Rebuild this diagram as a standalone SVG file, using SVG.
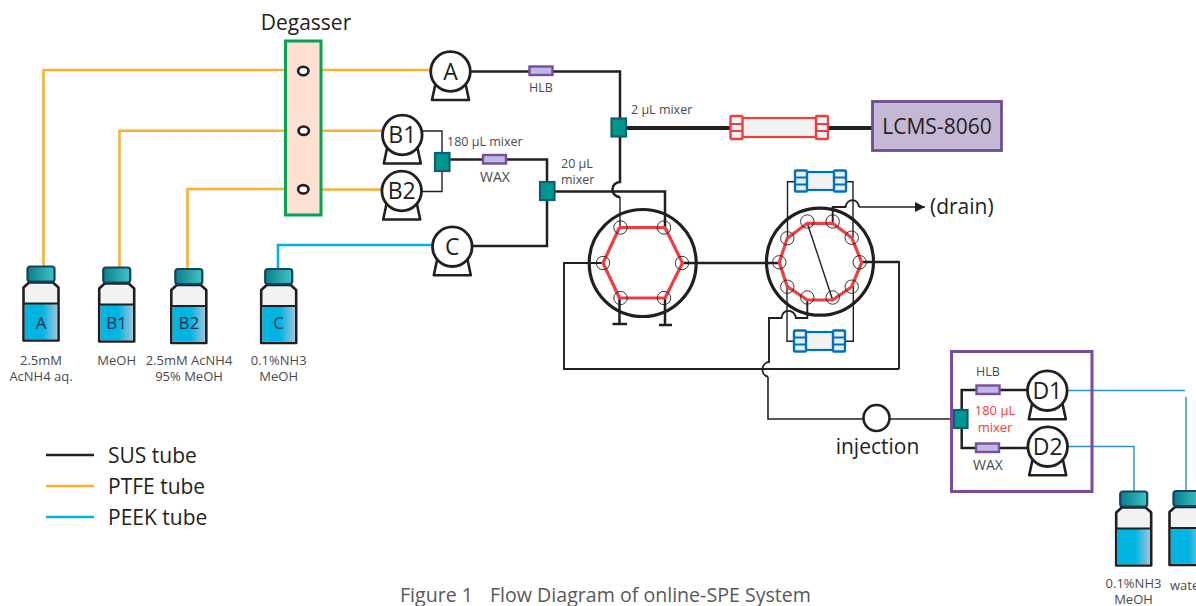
<svg xmlns="http://www.w3.org/2000/svg" width="1196" height="606" viewBox="0 0 1196 606">
<style>
text{font-family:"Open Sans","Noto Sans","Liberation Sans",sans-serif;fill:#4a4a4c}
.s{font-size:12.5px}.l{font-size:13px}.m{font-size:21px;fill:#231f20}.c{text-anchor:middle}
.p{font-size:23px;fill:#231f20;text-anchor:middle}
.v{font-size:17px;fill:#16324a;text-anchor:middle}
path,line,circle,rect,ellipse,polygon{fill:none}
.sus{stroke:#231f20;stroke-width:2.5;fill:none}
.sum{stroke:#231f20;stroke-width:1.9;fill:none}
.sust{stroke:#231f20;stroke-width:1.4;fill:none}
.thick{stroke:#231f20;stroke-width:3.8;fill:none}
.ptfe{stroke:#fbb034;stroke-width:2.6;fill:none}
.peek{stroke:#00b5e2;stroke-width:2.6;fill:none}
.d{stroke:#2a8fc4;stroke-width:1.4;fill:none}
.pc{fill:#fff;stroke:#231f20;stroke-width:2.8}
.pb{fill:#fff;stroke:#231f20;stroke-width:2.6;stroke-linejoin:round}
.mix{fill:#00978f;stroke:#0d5f74;stroke-width:2.2}
.col{fill:#bdbbe0;stroke:#7b4ba0;stroke-width:2.4}
.ring{fill:none;stroke:#231f20;stroke-width:3.2}
.port{fill:none;stroke:#231f20;stroke-width:.9}
.rotor{fill:none;stroke:#ef3e42;stroke-width:3.2;stroke-linejoin:round}
</style>
<defs>
<linearGradient id="liq"><stop offset=".55" stop-color="#00b5e2"/><stop offset="1" stop-color="#9cc4de"/></linearGradient>
<linearGradient id="capg"><stop offset="0" stop-color="#0a7f8c"/><stop offset="1" stop-color="#3fc4c4"/></linearGradient>
<marker id="arr" markerUnits="userSpaceOnUse" markerWidth="11" markerHeight="10" refX="10" refY="5" orient="auto"><polygon points="0,0 10,5 0,10" style="fill:#231f20"/></marker>
<g id="pump"><path class="pb" d="M-15,12 L-18.5,28.5 H18.5 L15,12"/><circle class="pc" r="19.8"/></g>
<g id="vial">
<path d="M-17.5,22 L-12,17 H12 L17.5,22 V75 H-17.5Z" style="fill:#f1f2f2;stroke:#231f20;stroke-width:2.6;stroke-linejoin:round"/>
<rect x="-16.2" y="38" width="32.4" height="35.8" style="fill:url(#liq)"/>
<line x1="-17" y1="38" x2="17" y2="38" style="stroke:#231f20;stroke-width:2.2"/>
<rect x="-13.5" y="1" width="27" height="15" rx="2.5" style="fill:url(#capg);stroke:#17415f;stroke-width:2.2"/>
</g>
<g id="bcol">
<rect x="6" y="2.5" width="40" height="18" style="fill:#f1f2f2;stroke:#0072bc;stroke-width:2.2"/>
<rect x="1" y="1" width="12" height="21" rx="1" style="fill:#e6eef5;stroke:#0072bc;stroke-width:2.4"/>
<rect x="40" y="1" width="12" height="21" rx="1" style="fill:#e6eef5;stroke:#0072bc;stroke-width:2.4"/>
<path d="M1,8 H13 M1,15 H13 M40,8 H52 M40,15 H52" style="stroke:#0072bc;stroke-width:2"/>
</g>
</defs>

<g id="connectors">
<path class="ptfe" d="M43.5,266 V70 H285 M322,70 H431"/>
<path class="ptfe" d="M119.5,267 V130.7 H285 M322,130.7 H383"/>
<path class="ptfe" d="M187.5,268 V189 H285 M322,189.5 H382"/>
<path class="peek" d="M278,268 V245 H433"/>
<path class="sus" d="M470,71.5 H620 V118"/>
<path class="sus" d="M620,137 V182 A7.5,7.5 0 0 0 620,197"/>
<path class="sust" d="M620,197 V227"/>
<path class="sust" d="M421,131 H442 V153 M421,191.5 H442 V171"/>
<path class="sus" d="M450,159.5 H547 V182 M547,200 V246 H472"/>
<path class="sus" d="M555,191.5 H665 V227"/>
<path class="thick" d="M626,128 H730 M828,128 H872"/>
<path class="sum" d="M603.5,263 H564 V369 H760 M760,369 H899"/>
<path class="sus" d="M682.5,263 H779.5"/>
<path class="sus" d="M861.5,262 H899"/>
<path class="sum" d="M899,261 V369"/>
<path class="sum" d="M807.3,300 V318 H796 C794,309 783,308 781.5,318 H769 V362 A7.5,7.5 0 0 0 768,376.7"/>
<path class="sust" d="M768,376.7 V419 H863" style="stroke-width:1.6"/>
<path class="sust" d="M890,419 H953" style="stroke-width:1.6"/>
<path class="sum" d="M832.7,223 V207 H845.5 C847,198 858,198 859,207"/>
<path class="sust" d="M859,207 H925" marker-end="url(#arr)"/>
<path class="sust" d="M794,181.7 H787.5 V238 M846,181.7 H853 V238"/>
<path class="sust" d="M787,286 V341.3 H793 M853.3,286 V341.3 H845"/>
<path class="sust" d="M807.3,223.3 L832.7,300"/>
<path class="sus" d="M619.5,298 V324 M612.5,324 H627 M665,298 V325 M659,325 H672"/>
<path class="sus" d="M1028,390 H1000 M976,390 H961.7 V410 M961.7,428 V448 H975 M1000,448 H1028"/>
<path class="d" d="M1067,390.5 H1185 M1186,397 V497 M1067,446.5 H1134 V491"/>
</g>

<g id="degasser">
<rect x="285.5" y="41" width="35.5" height="174" style="fill:#fde0d2;stroke:#00a651;stroke-width:3"/>
<ellipse cx="303.3" cy="71" rx="5.2" ry="4.2" style="fill:#fff;stroke:#231f20;stroke-width:2.6"/>
<ellipse cx="303.7" cy="130.7" rx="5.2" ry="4.2" style="fill:#fff;stroke:#231f20;stroke-width:2.6"/>
<ellipse cx="303.3" cy="189.3" rx="5.2" ry="4.2" style="fill:#fff;stroke:#231f20;stroke-width:2.6"/>
<text x="306" y="29.5" class="m c">Degasser</text>
</g>

<g id="pump-a"><use href="#pump" x="450.5" y="71.5"/><text x="450.5" y="79.5" class="p">A</text></g>
<g id="pump-b1"><use href="#pump" x="402.3" y="135"/><text x="402.3" y="143" class="p">B1</text></g>
<g id="pump-b2"><use href="#pump" x="401.7" y="191"/><text x="401.7" y="199" class="p">B2</text></g>
<g id="pump-c"><use href="#pump" x="452.3" y="246.7"/><text x="452.3" y="254.7" class="p">C</text></g>
<g id="pump-d1"><use href="#pump" x="1047.3" y="390.7"/><text x="1047.3" y="398.7" class="p">D1</text></g>
<g id="pump-d2"><use href="#pump" x="1047.7" y="446.7"/><text x="1047.7" y="454.7" class="p">D2</text></g>

<g id="mixer-2"><rect class="mix" x="611.5" y="118.5" width="14.5" height="18"/><text x="631" y="114" class="s">2 µL mixer</text></g>
<g id="mixer-180"><rect class="mix" x="435" y="153" width="14.5" height="18"/><text x="447" y="146" class="s">180 µL mixer</text></g>
<g id="mixer-20"><rect class="mix" x="540" y="182" width="14.5" height="18"/><text x="561" y="168" class="s">20 µL</text><text x="561" y="184" class="s">mixer</text></g>
<g id="mixer-d"><rect class="mix" x="954" y="410" width="13.5" height="18"/><text x="995" y="415" class="l c" style="fill:#ef3e42">180 µL</text><text x="995" y="432" class="l c" style="fill:#ef3e42">mixer</text></g>

<g id="col-hlb"><rect class="col" x="529.5" y="66.5" width="23" height="8.5"/><text x="541" y="92" class="s c">HLB</text></g>
<g id="col-wax"><rect class="col" x="483" y="155" width="23" height="8.5"/><text x="495" y="182" class="c" style="font-size:14px">WAX</text></g>
<g id="col-d-hlb"><rect class="col" x="976.5" y="385.5" width="23" height="8.5"/><text x="988" y="376" class="s c">HLB</text></g>
<g id="col-d-wax"><rect class="col" x="976" y="443.5" width="23" height="8.5"/><text x="988" y="470" class="c" style="font-size:14px">WAX</text></g>

<g id="trap-red">
<rect x="735" y="118" width="88" height="19" style="fill:#f1f2f2;stroke:#ef3e42;stroke-width:2.2"/>
<rect x="730.5" y="116" width="12" height="23" rx="1" style="fill:#f1f2f2;stroke:#ef3e42;stroke-width:2.4"/>
<rect x="816" y="116" width="12" height="23" rx="1" style="fill:#f1f2f2;stroke:#ef3e42;stroke-width:2.4"/>
<path d="M730.5,124 H742.5 M730.5,131 H742.5 M816,124 H828 M816,131 H828" style="stroke:#ef3e42;stroke-width:2"/>
</g>
<g id="lcms"><rect x="872.5" y="101.5" width="129" height="49" style="fill:#c5b8d6;stroke:#6d4f8e;stroke-width:2.8"/><text x="937" y="134" class="m c">LCMS-8060</text></g>

<g id="valve-left">
<circle class="ring" cx="642.7" cy="263" r="53.5"/>
<polygon class="rotor" points="619.5,227.5 665,227.5 682.5,263 665,298 619.5,298 603,263"/>
<circle class="port" cx="620.5" cy="227.5" r="6.7"/><circle class="port" cx="664" cy="227.5" r="6.7"/><circle class="port" cx="682" cy="263" r="6.7"/><circle class="port" cx="664" cy="298" r="6.7"/><circle class="port" cx="620.5" cy="298" r="6.7"/><circle class="port" cx="603" cy="263" r="6.7"/>
</g>
<g id="valve-right">
<circle class="ring" cx="820" cy="261.7" r="53.5"/>
<polygon class="rotor" points="807.3,223.3 832.7,223.3 851.7,237.7 861.7,262.3 851.7,286.7 832.7,300 807.3,300 787.3,286.7 779.3,262.3 787.3,238.3"/>
<circle class="port" cx="807.3" cy="221.5" r="6.7"/><circle class="port" cx="832.7" cy="221.5" r="6.7"/><circle class="port" cx="851.7" cy="237.7" r="6.7"/><circle class="port" cx="859.7" cy="262.3" r="6.7"/><circle class="port" cx="851.7" cy="286.7" r="6.7"/><circle class="port" cx="832.7" cy="297.5" r="6.7"/><circle class="port" cx="807.3" cy="297.5" r="6.7"/><circle class="port" cx="787.3" cy="286.7" r="6.7"/><circle class="port" cx="779.3" cy="262.3" r="6.7"/><circle class="port" cx="787.3" cy="238.3" r="6.7"/>
</g>
<g id="trap-top"><use href="#bcol" x="794" y="169.5"/></g>
<g id="trap-bottom"><use href="#bcol" x="793" y="329.5"/></g>

<g id="injection"><circle cx="876.5" cy="418" r="13" style="fill:#fff;stroke:#231f20;stroke-width:2.6"/><text x="877.5" y="454" class="m c">injection</text></g>
<g id="drain"><text x="930" y="214" class="m">(drain)</text></g>
<rect id="purple-box" x="951.5" y="351.5" width="140.5" height="140" style="fill:none;stroke:#7b4ba0;stroke-width:3"/>

<g id="vial-a"><use href="#vial" x="41" y="265.5"/><text x="41" y="329" class="v">A</text><text x="41" y="365" class="l c">2.5mM</text><text x="41" y="381" class="l c">AcNH4 aq.</text></g>
<g id="vial-b1"><use href="#vial" x="116.7" y="266.5"/><text x="116.7" y="329" class="v">B1</text><text x="116.7" y="365" class="l c">MeOH</text></g>
<g id="vial-b2"><use href="#vial" x="188.8" y="268"/><text x="188.8" y="329" class="v">B2</text><text x="189" y="365" class="l c">2.5mM AcNH4</text><text x="189" y="381" class="l c">95% MeOH</text></g>
<g id="vial-c"><use href="#vial" x="278.7" y="268"/><text x="278.7" y="329" class="v">C</text><text x="278.7" y="365" class="l c">0.1%NH3</text><text x="278.7" y="381" class="l c">MeOH</text></g>
<g id="vial-d"><use href="#vial" x="1133.7" y="490.5"/><text x="1133.5" y="588" class="l c">0.1%NH3</text><text x="1133.5" y="604" class="l c">MeOH</text></g>
<g id="vial-e"><use href="#vial" x="1187" y="490"/><text x="1170" y="590" class="l">water</text></g>

<g id="legend">
<line x1="46" y1="455" x2="94" y2="455" class="sus"/><text x="108" y="462.5" class="m">SUS tube</text>
<line x1="46" y1="486" x2="94" y2="486" class="ptfe"/><text x="108" y="493.5" class="m">PTFE tube</text>
<line x1="46" y1="517" x2="94" y2="517" class="peek"/><text x="108" y="524.5" class="m">PEEK tube</text>
</g>
<text y="602" style="font-size:19.6px;fill:#58595b"><tspan x="400">Figure 1</tspan><tspan x="490">Flow Diagram of online-SPE System</tspan></text>
</svg>
